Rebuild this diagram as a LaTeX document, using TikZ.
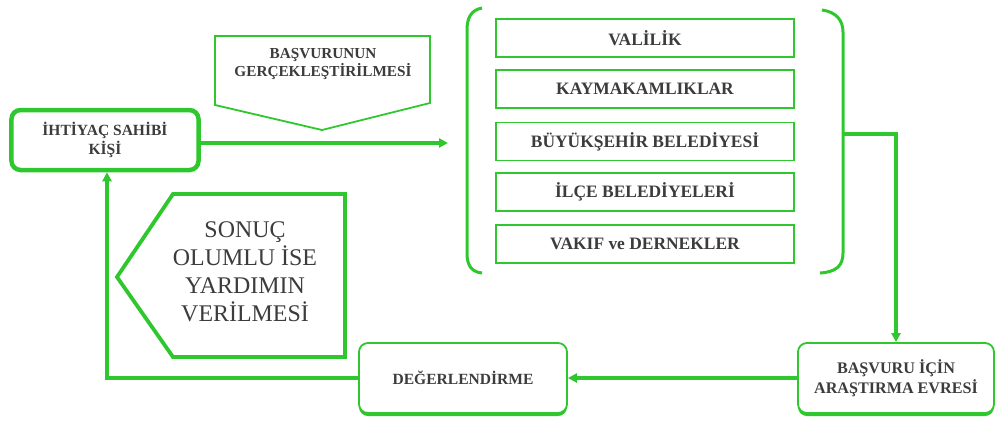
\documentclass[tikz,border=0pt]{standalone}
\usepackage{fontspec}
\setmainfont{Liberation Serif}
\usetikzlibrary{arrows.meta,shadows}
\definecolor{gr}{RGB}{46,200,46}
\definecolor{txt}{RGB}{60,60,60}
\tikzset{
  lbl/.style={text=txt,font=\bfseries\fontsize{15.6}{19}\selectfont,align=center},
  rbox/.style={draw=gr,rounded corners=9bp,fill=white,lbl},
  inbox/.style={draw=gr,line width=1.8bp,minimum width=298bp,minimum height=38bp,lbl,font=\bfseries\fontsize{17.5}{20}\selectfont},
  conn/.style={draw=gr,line width=3.6bp},
  tip/.style={-{Triangle[length=9bp,width=9bp]}},
  gshadow/.style={drop shadow={shadow xshift=0bp,shadow yshift=-3bp,fill=gr,opacity=1}}
}
\begin{document}
\begin{tikzpicture}[x=1bp,y=-1bp]
\useasboundingbox[fill=white] (0,0) rectangle (998,421);
% nodes
\node[rbox,line width=4.5bp,minimum width=187bp,minimum height=60bp] (ihtiyac) at (105,140) {İHTİYAÇ SAHİBİ\\KİŞİ};
\node[rbox,line width=1.8bp,minimum width=208bp,minimum height=70bp,gshadow] (deger) at (463,378) {DEĞERLENDİRME};
\node[rbox,line width=1.8bp,minimum width=196bp,minimum height=70bp,gshadow,font=\bfseries\fontsize{16.2}{20}\selectfont] (basvuru) at (896,378) {BAŞVURU İÇİN\\ARAŞTIRMA EVRESİ};
\node[inbox] (valilik) at (645,38) {VALİLİK};
\node[inbox] (kaymak) at (645,89) {KAYMAKAMLIKLAR};
\node[inbox] (buyuk) at (645,141.5) {BÜYÜKŞEHİR BELEDİYESİ};
\node[inbox] (ilce) at (645,192) {İLÇE BELEDİYELERİ};
\node[inbox] (vakif) at (645,244) {VAKIF ve DERNEKLER};
% pentagon down
\draw[gr,line width=1.8bp] (215,36) -- (430,36) -- (430,103) -- (322,130) -- (215,105) -- cycle;
\node[lbl,font=\bfseries\fontsize{15.3}{18.5}\selectfont] (bgerc) at (323,64) {BAŞVURUNUN\\GERÇEKLEŞTİRİLMESİ};
% pentagon left
\draw[gr,line width=3.8bp] (117,277) -- (173,194) -- (345,194) -- (345,357) -- (173,357) -- cycle;
\node[text=txt,font=\fontsize{24}{28}\selectfont,align=center] (sonuc) at (245,272) {SONUÇ\\OLUMLU İSE\\YARDIMIN\\VERİLMESİ};
% brackets
\draw[gr,line width=3bp] (482,8) .. controls (471,10) and (467,18) .. (467,30) -- (467,253) .. controls (467,266) and (472,272) .. (482,273);
\draw[gr,line width=3bp] (822,10) .. controls (836,12) and (843,20) .. (843,32) -- (843,253) .. controls (843,266) and (836,272) .. (820,273);
\coordinate (brR) at (843,134);
\coordinate (brIn) at (448,143);
\coordinate (lc) at (107,378);
% connectors
\draw[conn,tip] (ihtiyac.east |- brIn) -- (brIn);
\draw[conn,tip] (brR) -| (basvuru.north);
\draw[conn,tip] (basvuru.west) -- (deger.east);
\draw[conn,tip] (deger.west) -- (lc) -- (lc |- ihtiyac.south);
\end{tikzpicture}
\end{document}
